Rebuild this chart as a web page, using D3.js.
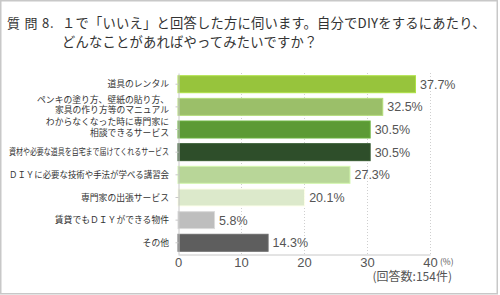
<html><head>
<meta charset="utf-8">
<script src="https://cdn.jsdelivr.net/npm/d3@7/dist/d3.min.js"></script>
<style>
body{
  margin: 0px;
  background: #fff;
}
text {
  font-family: "Noto Sans CJK JP", sans-serif;
}
.num {
  font-family: "Liberation Sans", Arial, sans-serif;
}
</style>
<title>質問8</title>
</head>
<body>
<script>
var width = 500,
    height = 295;

// data
var categories = [
  "道具のレンタル",
  "ペンキの塗り方、壁紙の貼り方、\n家具の作り方等のマニュアル",
  "わからなくなった時に専門家に\n相談できるサービス",
  "資材や必要な道具を自宅まで届けてくれるサービス",
  "ＤＩＹに必要な技術や手法が学べる講習会",
  "専門家の出張サービス",
  "賃貸でもＤＩＹができる物件",
  "その他"
];
var values = [37.7, 32.5, 30.5, 30.5, 27.3, 20.1, 5.8, 14.3];
var colors = ["#97c43c", "#9bbf69", "#5c9a35", "#2e4e2a", "#b8d698", "#dce9cb", "#bebebe", "#5e5e5e"];
var xTicks = [0, 10, 20, 30, 40];
var titleLines = [
  "１で「いいえ」と回答した方に伺います。自分でDIYをするにあたり、",
  "どんなことがあればやってみたいですか？"
];

var svg = d3.select("body").append("svg")
    .attr("width", width)
    .attr("height", height);

// frame
svg.append("rect")
  .attr("x", 0.75).attr("y", 0.75)
  .attr("width", 496.5).attr("height", 293)
  .attr("fill", "#fff")
  .attr("stroke", "#c8c8c8")
  .attr("stroke-width", 1.5);

// title
svg.append("text")
  .text("質 問 8.")
  .attr("x", 7).attr("y", 28)
  .attr("font-size", 13)
  .attr("letter-spacing", 0.8)
  .attr("fill", "#333");
svg.selectAll("text.title").data(titleLines).enter().append("text")
  .attr("class", "title")
  .text(function(d){ return d; })
  .attr("x", 62)
  .attr("y", function(d, i){ return 28 + i * 19; })
  .attr("font-size", 13.3)
  .attr("letter-spacing", 0.2)
  .attr("fill", "#333");

var x = d3.scaleLinear().domain([0, 40]).range([178, 430]);
var y = d3.scaleBand().domain(categories).range([73, 254])
    .paddingInner(0.25).paddingOuter(0.12);

// grid
svg.selectAll("line.grid").data(xTicks.slice(1)).enter().append("line")
  .attr("class", "grid")
  .attr("x1", function(d){ return x(d) + 0.5; })
  .attr("x2", function(d){ return x(d) + 0.5; })
  .attr("y1", 73).attr("y2", 254)
  .attr("stroke", "#cfcfcf")
  .attr("stroke-dasharray", "1,2");

// bars
svg.selectAll("rect.bar").data(values).enter().append("rect")
  .attr("class", "bar")
  .attr("x", x(0))
  .attr("y", function(d, i){ return y(categories[i]); })
  .attr("width", function(d){ return x(d) - x(0); })
  .attr("height", y.bandwidth())
  .attr("fill", function(d, i){ return colors[i]; })
  .attr("stroke", function(d, i){ return d3.color(colors[i]).brighter(0.4); })
  .attr("stroke-width", 1);

// value labels
svg.selectAll("text.val").data(values).enter().append("text")
  .attr("class", "num val")
  .text(function(d){ return d.toFixed(1) + "%"; })
  .attr("x", function(d){ return x(d) + 4.5; })
  .attr("y", function(d, i){ return y(categories[i]) + y.bandwidth() / 2; })
  .attr("dy", "0.36em")
  .attr("font-size", 12.5)
  .attr("fill", "#555");

// left axis
var ya = svg.append("g")
  .attr("transform", "translate(178.5,0)")
  .call(d3.axisLeft(y).tickSize(3).tickSizeOuter(0).tickFormat(""));
ya.selectAll("path, line").attr("stroke", "#c8c8c8");

// bottom axis
var xa = svg.append("g")
  .attr("transform", "translate(0,254.5)")
  .call(d3.axisBottom(x).tickValues(xTicks).tickSize(0).tickSizeOuter(0).tickPadding(3));
xa.select(".domain").attr("stroke", "#c8c8c8");
xa.selectAll("text")
  .attr("class", "num")
  .attr("font-size", 13)
  .attr("fill", "#555");

// category labels
var lab = svg.selectAll("text.cat").data(categories).enter().append("text")
  .attr("class", "cat")
  .attr("text-anchor", "end")
  .attr("font-size", 8.8)
  .attr("fill", "#333")
  .attr("y", function(d){ return y(d) + y.bandwidth() / 2; });
lab.each(function(d){
  var lines = d.split("\n");
  var t = d3.select(this);
  lines.forEach(function(s, j){
    var ts = t.append("tspan")
      .attr("x", 169)
      .attr("dy", j === 0 ? (3.1 - (lines.length - 1) * 7.4) : 10.7)
      .text(s);
    if (ts.node().getComputedTextLength() > 160) {
      ts.attr("textLength", 160).attr("lengthAdjust", "spacingAndGlyphs");
    }
  });
});

// units
svg.append("text")
  .text("(%)")
  .attr("x", 440).attr("y", 265)
  .attr("font-size", 8.5)
  .attr("fill", "#555");
svg.append("text")
  .text("(回答数:154件)")
  .attr("x", 452).attr("y", 281)
  .attr("text-anchor", "end")
  .attr("font-size", 12)
  .attr("fill", "#555");
</script>
</body></html>
